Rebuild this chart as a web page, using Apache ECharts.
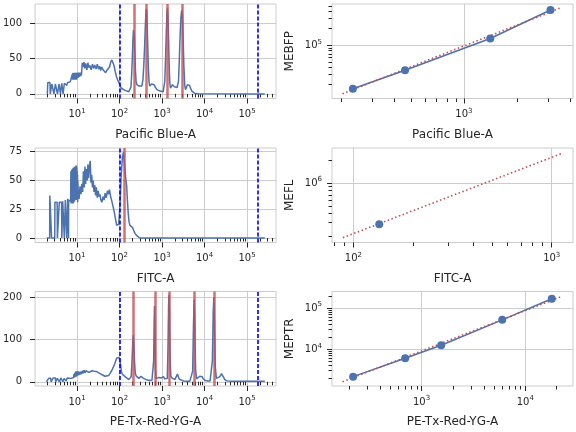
<!DOCTYPE html>
<html>
<head>
<meta charset="utf-8">
<title>bead calibration</title>
<script src="https://cdn.jsdelivr.net/npm/echarts/dist/echarts.min.js"></script>
<style>
  html, body { margin: 0; padding: 0; background: #fff; }
  #main { width: 576px; height: 432px; }
</style>
</head>
<body>
<div id="main"></div>
<script type="text/javascript">
// histogram data, [channel value, count]
var pacificBlueHist = [
  [2.0,0],[2.05,16],[2.3,16],[2.35,0],[2.52,0],[2.55,14],[2.82,14],[2.86,0],[3.05,0],[3.09,14],[3.42,14],[3.46,0],
  [3.74,0],[3.78,14],[4.03,14],[4.07,0],[4.33,0],[4.37,15],[4.66,15],[4.7,0],[4.98,0],[5.03,15],[5.35,13],[5.5,16],
  [5.75,12],[6.0,16],[6.4,15],[6.9,17],[7.3,16],[7.6,18],
  [7.75,28],[7.85,20],[7.95,29],[8.05,21],[8.15,30],[8.25,20],[8.35,29],[8.5,21],[8.6,30],[8.7,22],[8.8,30],
  [8.95,20],[9.05,29],[9.2,21],[9.3,30],[9.45,22],[9.55,29],[9.7,20],[9.8,30],[9.95,23],[10.05,30],[10.2,22],
  [10.3,29],[10.45,24],[10.6,30],[10.75,23],[10.9,30],[11.05,25],[11.2,29],[11.4,24],[11.5,30],[11.7,26],
  [11.8,30],[12.0,25],[12.1,29],[12.3,27],[12.45,30],[12.65,26],[12.8,30],
  [13.0,29],[13.3,44],[13.8,38],[14.5,45],[15.2,36],[16,43],[17,34],[18,44],[19,37],[20,40],[21.5,34],[23,42],
  [24.5,36],[26,41],[28,35],[30,42],[32,35],[34,39],[36,33],[38,38],[41,34],[44,36],[47,30],[50,33],[54,31],
  [58,38],[62,45],[66,48],[70,46],[74,40],[79,32],[84,25],[90,20],[96,16],[102,12],[110,8],[120,6],[135,5],
  [150,4],[165,3],[178,3],[186,10],[194,30],[201,55],[207,78],[212,90],[217,92],[223,80],[230,55],[237,32],
  [245,18],[255,13],[268,11],[285,11],[310,10],[335,11],[355,20],[372,40],[388,65],[402,92],[415,112],
  [425,120],[436,116],[448,95],[462,65],[478,35],[495,17],[512,11],[540,11],[570,14],[610,15],[650,13],[700,9],
  [760,6],[830,5],[900,4],[980,3.5],[1060,3],[1110,5],[1160,18],[1210,50],[1260,88],[1305,114],[1340,121],
  [1375,112],[1420,82],[1470,42],[1520,16],[1580,8],[1650,9],[1750,13],[1850,12],[1950,10],[2050,11],[2150,12],
  [2260,9],[2350,8],[2440,18],[2540,45],[2660,82],[2780,108],[2900,118],[3010,112],[3130,80],[3270,38],
  [3420,12],[3560,6],[3750,7],[3950,13],[4200,15],[4450,12],[4750,7],[5050,4],[5400,2],[5800,1],[6300,0.5],
  [7000,0.2],[262144,0]
];
var fitcHist = [
  [1.95,0],[2.28,0],[2.3,37],[2.5,37],[2.53,0],[3.0,0],[3.03,31],[3.42,31],[3.46,0],[3.8,0],[3.84,31],[4.35,31],
  [4.4,0],[4.58,0],[4.62,32],[5.0,32],[5.04,0],[5.28,0],[5.32,33],[5.7,33],[5.74,0],[6.0,0],[6.04,34],[6.3,34],
  [6.33,0],[6.37,33],[7.1,32],[7.2,58],[7.27,30],[7.35,57],[7.42,32],[7.5,59],[7.58,30],[7.65,56],[7.73,33],
  [7.8,60],[7.88,31],[7.95,58],[8.03,34],[8.1,61],[8.18,30],[8.25,57],[8.33,33],[8.4,60],[8.48,31],[8.55,58],
  [8.63,35],[8.7,62],[8.78,32],[8.85,59],[8.93,34],[9.0,61],[9.08,33],[9.15,58],[9.23,36],[9.3,62],[9.38,34],
  [9.45,63],[9.53,35],[9.6,60],[9.68,33],[9.75,63],[9.83,36],[9.9,61],[10.0,34],[10.1,58],[10.2,33],[10.3,55],
  [10.4,31],[10.5,50],[10.7,40],[11.2,34],[11.8,45],[12.4,38],[13.0,47],[13.6,40],[14.2,58],[14.8,44],
  [15.4,62],[16.0,47],[16.7,60],[17.4,50],[18.1,64],[18.8,52],[19.6,62],[20.5,67],[21.3,48],[22.2,55],
  [23.1,44],[24.1,50],[25.1,40],[26.2,46],[27.4,37],[28.6,44],[30,35],[31.5,41],[33,36],[34.7,38],[36.5,33],
  [38.5,31],[41,36],[43.5,33],[46,39],[49,35],[52,41],[55,38],[58,42],[62,36],[66,32],[71,27],[76,22],[81,16],
  [86,11],[91,10],[96,12],[103,30],[110,55],[117,70],[124,74.5],[131,65],[140,52],[147,46],[154,32],[161,21],
  [168,14],[176,11],[190,10],[204,9],[218,6],[232,4],[255,2],[277,0.5],[300,0],[262144,0]
];
var peTxRedHist = [
  [1.9,0],[2.1,0],[2.15,8],[2.4,8],[2.45,0],[2.7,0],[2.75,9],[3.1,9],[3.15,0],[3.4,0],[3.45,8],[3.8,8],[3.85,0],
  [4.1,0],[4.15,9],[4.6,9],[4.65,0],[4.9,0],[4.95,8],[5.5,8],[5.55,2],[5.8,2],[5.85,9],[6.5,10],[7.2,8],[7.9,11],
  [8.3,10],[8.45,18],[8.6,10],[8.75,20],[8.9,10],[9.05,22],[9.2,12],[9.35,24],[9.5,12],[9.65,25],[9.8,13],
  [9.95,24],[10.1,14],[10.25,25],[10.4,15],[10.6,24],[10.8,15],[11.0,23],[11.2,17],[11.45,24],[11.7,17],
  [12.2,24],[12.8,18],[13.4,26],[14,20],[14.7,27],[15.4,21],[16.2,26],[17,22],[18,27],[19,22],[20,26],[21,21],
  [22.5,26],[24,22],[25.5,25],[27,21],[29,24],[31,22],[34,20],[37,19],[40,16],[45,13],[50,12],[56,15],[62,22],
  [68,30],[74,38],[80,47],[86,56],[92,58],[98,57],[104,45],[110,25],[116,18],[125,14],[135,12],[150,8],[165,5],
  [178,4],[188,12],[196,45],[204,90],[211,110],[218,85],[226,45],[235,20],[245,14],[255,12],[270,10],[285,8],
  [303,9],[320,13],[340,13],[365,8],[400,6],[450,4],[520,3],[580,4],[610,5],[635,50],[652,140],[665,179],
  [680,120],[700,30],[725,8],[790,6],[850,10],[900,12],[960,9],[1020,11],[1080,12],[1150,7],[1240,5],[1330,8],
  [1380,80],[1425,180],[1460,205],[1495,160],[1550,50],[1610,14],[1700,9],[1850,6],[2000,5],[2150,9],
  [2300,18],[2420,16],[2550,6],[2750,3],[3200,2],[3800,1],[4500,1],[5000,2],[5250,25],[5480,130],[5700,194],
  [5900,140],[6150,30],[6500,7],[7200,9],[7700,13],[8300,15],[8800,12],[9400,6],[10500,3],[12000,2],[13500,2],
  [14500,5],[15300,50],[16000,165],[16500,198],[17100,140],[17900,35],[19000,8],[21000,6],[23000,12],
  [25000,19],[27500,12],[30000,5],[34000,2],[40000,1.5],[60000,1],[262144,1]
];

// bead peak positions (red) and gate limits (blue dashed)
var pacificBluePeaks = [219, 436, 1350, 2950];
var fitcPeaks = [128];
var peTxRedPeaks = [211, 684, 1462, 5660, 16600];
var gateLimits = [100, 180000];

// standard curves: measured peak vs MEF values, fitted line end points
var mebfpX = [234, 463, 1412, 3106];
var mebfpY = [16600, 35500, 132000, 427000];
var mebfpFit = [[204, 13500], [3500, 458000]];
var meflX = [135];
var meflY = [285000];
var meflFit = [[88.5, 190000], [1122, 2450000]];
var meptrX = [219, 695, 1546, 5990, 17990];
var meptrY = [2150, 6030, 12500, 51900, 168700];
var meptrFit = [[173, 1622], [22400, 192000]];

var channels = ['Pacific Blue-A', 'FITC-A', 'PE-Tx-Red-YG-A'];
var mefNames = ['MEBFP', 'MEFL', 'MEPTR'];
var histYTicks = [[0, 50, 100], [0, 25, 50, 75], [0, 100, 200]];

var TXT = '#262626', GRID = '#cccccc', BLUE = '#4c72b0', RED = '#c44e52';
var FONT = 'DejaVu Sans';

function minorLogTicks(lo, hi) {
    var out = [];
    for (var e = Math.floor(Math.log10(lo)); e <= Math.ceil(Math.log10(hi)); e++) {
        for (var k = 2; k <= 9; k++) {
            var v = k * Math.pow(10, e);
            if (v >= lo && v <= hi) out.push(v);
        }
    }
    return out;
}
function supFmt(v) {
    return '10{sup|' + Math.round(Math.log10(v)) + '}';
}
var supRich = { sup: { fontSize: 7, color: TXT, fontFamily: FONT, padding: [0, 0, 7, 0] } };

var grids = [], xAxes = [], yAxes = [], series = [];

function addGrid(left, top) {
    grids.push({ left: left, top: top, width: 241, height: 94.5, show: true,
                 borderColor: GRID, borderWidth: 1, backgroundColor: 'transparent' });
    return grids.length - 1;
}
// a log axis made of two overlapping axes: minor ticks, and major ticks + labels + grid lines
function addLogAxis(list, dim, g, min, max, majors, name, nameGap, margin) {
    var pos = dim === 'x' ? 'bottom' : 'left';
    list.push({ type: 'log', gridIndex: g, min: min, max: max, position: pos,
        axisLine: { show: false },
        axisTick: { show: true, length: 3.5, lineStyle: { color: TXT, width: 1 },
                    customValues: minorLogTicks(min, max) },
        axisLabel: { show: false }, splitLine: { show: false } });
    var main = list.length - 1;
    list.push({ type: 'log', gridIndex: g, min: min, max: max, position: pos,
        axisLine: { show: false },
        axisTick: { show: true, length: 5, lineStyle: { color: TXT, width: 1 }, customValues: majors },
        axisLabel: { customValues: majors, formatter: supFmt, rich: supRich, color: TXT,
                     fontSize: 10, fontFamily: FONT, margin: margin },
        splitLine: { show: true, lineStyle: { color: GRID, width: 1 } },
        name: name, nameLocation: 'middle', nameGap: nameGap,
        nameTextStyle: { color: TXT, fontSize: 12, fontFamily: FONT } });
    return main;
}

var hists = [pacificBlueHist, fitcHist, peTxRedHist];
var peaks = [pacificBluePeaks, fitcPeaks, peTxRedPeaks];
var histYRange = [[-6.5, 127], [-3.9, 78.2], [-10, 213]];
var rowTop = [4, 148, 291.5];

// left column: histograms
for (var r = 0; r < 3; r++) {
    var g = addGrid(35, rowTop[r]);
    var xi = addLogAxis(xAxes, 'x', g, 1.03, 480000, [10, 100, 1000, 10000, 100000], channels[r], 30, 9);
    yAxes.push({ type: 'value', gridIndex: g, min: histYRange[r][0], max: histYRange[r][1],
        axisLine: { show: false },
        axisTick: { show: true, length: 5, lineStyle: { color: TXT }, customValues: histYTicks[r] },
        axisLabel: { customValues: histYTicks[r], color: TXT, fontSize: 10, fontFamily: FONT, margin: 13 },
        splitLine: { show: true, lineStyle: { color: GRID } } });
    var yi = yAxes.length - 1;
    var ml = [];
    peaks[r].forEach(function (p) {
        ml.push({ xAxis: p, lineStyle: { color: RED, width: 2.5, opacity: 0.8, type: 'solid' } });
    });
    gateLimits.forEach(function (p) {
        ml.push({ xAxis: p, lineStyle: { color: '#0000ff', width: 1.8, type: [4, 2], opacity: 0.9 } });
    });
    series.push({ type: 'line', xAxisIndex: xi, yAxisIndex: yi, data: hists[r], showSymbol: false,
        lineStyle: { color: BLUE, width: 1.5 }, silent: true,
        markLine: { silent: true, symbol: ['none', 'none'], label: { show: false }, data: ml } });
}

// right column: standard curves
var curveX = [mebfpX, meflX, meptrX];
var curveY = [mebfpY, meflY, meptrY];
var fits = [mebfpFit, meflFit, meptrFit];
var rxRange = [[178, 4170], [78, 1280], [137, 28800]];
var ryRange = [[11100, 548000], [164000, 2900000], [1273, 254000]];
var rxMajors = [[1000], [100, 1000], [1000, 10000]];
var ryMajors = [[100000], [1000000], [10000, 100000]];

for (var r = 0; r < 3; r++) {
    var g = addGrid(332, rowTop[r]);
    var xi = addLogAxis(xAxes, 'x', g, rxRange[r][0], rxRange[r][1], rxMajors[r], channels[r], 30, 9);
    var yi = addLogAxis(yAxes, 'y', g, ryRange[r][0], ryRange[r][1], ryMajors[r], mefNames[r], 36, 10);
    var pts = curveX[r].map(function (x, i) { return [x, curveY[r][i]]; });
    series.push({ type: 'line', xAxisIndex: xi, yAxisIndex: yi, data: fits[r], showSymbol: false,
        lineStyle: { color: RED, width: 1.6, type: [1.5, 2.5] }, z: 3, silent: true });
    if (pts.length > 1) {
        series.push({ type: 'line', xAxisIndex: xi, yAxisIndex: yi, data: pts, showSymbol: false,
            lineStyle: { color: BLUE, width: 1.5 }, z: 2, silent: true });
    }
    series.push({ type: 'scatter', xAxisIndex: xi, yAxisIndex: yi, data: pts, symbolSize: 8,
        itemStyle: { color: BLUE, opacity: 1 }, z: 4, silent: true });
}

var chart = echarts.init(document.getElementById('main'));
chart.setOption({
    animation: false,
    backgroundColor: '#ffffff',
    grid: grids,
    xAxis: xAxes,
    yAxis: yAxes,
    series: series
});
</script>
</body>
</html>
